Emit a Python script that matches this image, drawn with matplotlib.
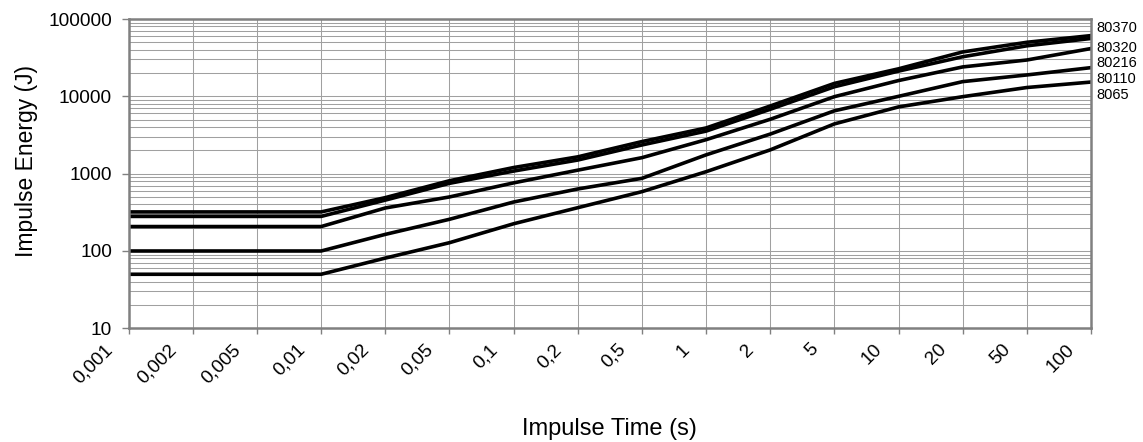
import matplotlib

matplotlib.use("Agg")
import matplotlib.pyplot as plt
import matplotlib.transforms as mtransforms
import numpy as np
from matplotlib.ticker import FixedLocator, FuncFormatter, LogLocator, NullFormatter

plt.rcParams["font.family"] = ["Liberation Sans", "DejaVu Sans"]

times = ["0,001", "0,002", "0,005", "0,01", "0,02", "0,05", "0,1", "0,2",
         "0,5", "1", "2", "5", "10", "20", "50", "100"]

e_80370 = [320, 320, 320, 320, 490, 810, 1200, 1650, 2600, 3900, 7500,
           14700, 22700, 37500, 50000, 61000]
e_80320 = [280, 280, 280, 280, 455, 750, 1080, 1500, 2350, 3550, 6800,
           13300, 21200, 32500, 45000, 56000]
e_80216 = [207, 207, 207, 207, 360, 500, 760, 1110, 1610, 2750, 5050,
           9900, 16000, 24000, 29500, 41500]
e_80110 = [100, 100, 100, 100, 164, 257, 430, 634, 870, 1750, 3250,
           6500, 10000, 15500, 18900, 23500]
e_8065 = [50, 50, 50, 50, 81, 128, 225, 363, 585, 1060, 2030,
          4400, 7300, 9900, 13000, 15300]

series_names = ["80370", "80320", "80216", "80110", "8065"]
series = [e_80370, e_80320, e_80216, e_80110, e_8065]

fig = plt.figure(figsize=(11.43, 4.42), dpi=100)
ax = fig.add_axes([0.1126, 0.2572, 0.8419, 0.6998])

x = np.arange(len(times))
for values in series:
    ax.plot(x, values, color="black", lw=2.6, solid_joinstyle="round")

ax.set_yscale("log")
ax.set_ylim(10, 100000)
ax.set_xlim(0, len(times) - 1)

# gridlines: one vertical per category, log minor grid horizontally
ax.xaxis.set_major_locator(FixedLocator(x))
ax.set_xticklabels(times)
ax.yaxis.set_major_locator(LogLocator(base=10))
ax.yaxis.set_minor_locator(LogLocator(base=10, subs=np.arange(2, 10)))
ax.yaxis.set_major_formatter(FuncFormatter(lambda v, p: f"{int(round(v))}"))
ax.yaxis.set_minor_formatter(NullFormatter())
ax.grid(True, which="major", axis="both", color="#a0a0a0", lw=0.75)
ax.grid(True, which="minor", axis="y", color="#a0a0a0", lw=0.75)
ax.set_axisbelow(True)

for spine in ax.spines.values():
    spine.set_color("#808080")
    spine.set_linewidth(1.8)

ax.tick_params(axis="y", which="major", length=5, width=1, color="#808080",
               labelsize=13.7, pad=7)
ax.tick_params(axis="y", which="minor", length=0)
ax.tick_params(axis="x", length=4, width=1, color="#808080",
               labelsize=13.7, pad=0)

offset = mtransforms.ScaledTranslation(-25 / 100, -7 / 100, fig.dpi_scale_trans)
for lab in ax.get_xticklabels():
    lab.set_rotation(45)
    lab.set_ha("right")
    lab.set_va("top")
    lab.set_rotation_mode("anchor")
    lab.set_transform(lab.get_transform() + offset)

ax.set_ylabel("Impulse Energy (J)", fontsize=16.5)
ax.yaxis.set_label_coords(-0.094, 0.54)
ax.set_xlabel("Impulse Time (s)", fontsize=17)
ax.xaxis.set_label_coords(0.5, -0.29)

label_y = [0.970, 0.907, 0.857, 0.805, 0.754]
for name, ly in zip(series_names, label_y):
    ax.text(1.006, ly, name, transform=ax.transAxes, fontsize=10.5,
            ha="left", va="center")

fig.savefig("out.png", dpi=100)
